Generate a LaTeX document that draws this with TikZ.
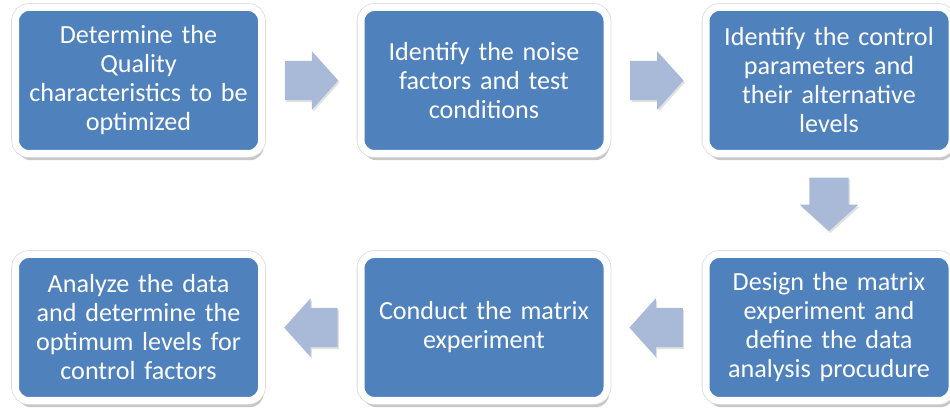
\documentclass[tikz,border=0pt]{standalone}
\usepackage{fontspec}
\setmainfont{Carlito}
\usepackage{tikz}
\usetikzlibrary{calc,shadows,shapes.arrows}
\definecolor{BoxBlue}{RGB}{79,129,189}
\definecolor{ArrowBlue}{RGB}{168,186,216}
\tikzset{
  stepbox/.style={rectangle, rounded corners=10pt, inner sep=0pt,
    minimum width=184.5pt, minimum height=109.5pt, text width=178pt,
    align=center, text=white, fill=BoxBlue,
    font=\fontsize{19.6}{21.75}\selectfont,
    drop shadow={shadow xshift=1.5pt, shadow yshift=-5pt, fill=black, opacity=0.22},
    preaction={draw=black!14, line width=6.4pt},
    draw=white, line width=5.25pt},
  flowarrow/.style={single arrow, draw=none, fill=ArrowBlue,
    inner xsep=0pt, inner ysep=14.6pt, minimum height=40pt,
    single arrow head extend=7.1pt, single arrow tip angle=96, xshift=-6.4pt,
    drop shadow={shadow xshift=1pt, shadow yshift=-1.5pt, fill=black, opacity=0.12}}
}
\begin{document}
\begin{tikzpicture}[x=0.75pt,y=0.75pt,yscale=-1,xscale=1]
\useasboundingbox (0,0) rectangle (950,409);

%Shape: Rounded Rect [top row]
\node (quality) at (138.5,80.5) [stepbox] {Determine the\\ Quality\\ characteristics to be\\ optimized};
\node (noise) at (484,80.5) [stepbox] {Identify the noise\\ factors and test\\ conditions};
\node (control) at (829,80.5) [stepbox] {Identify the control\\ parameters and\\ their alternative\\ levels};
%Shape: Rounded Rect [bottom row]
\node (analyze) at (138.5,327.5) [stepbox] {Analyze the data\\ and determine the\\ optimum levels for\\ control factors};
\node (conduct) at (484,327.5) [stepbox] {Conduct the matrix\\ experiment};
\node (design) at (829,327.5) [stepbox] {Design the matrix\\ experiment and\\ define the data\\ analysis procudure};

%Shape: Right Arrow
\node (qn) at ($(quality.east)!0.5!(noise.west)$) [flowarrow] {};
\node (nc) at ($(noise.east)!0.5!(control.west)$) [flowarrow] {};
%Shape: Down Arrow
\node (cd) at ($(control.south)!0.5!(design.north)$) [rotate=-90, flowarrow] {};
%Shape: Left Arrow
\node (dc) at ($(design.west)!0.5!(conduct.east)$) [rotate=180, flowarrow] {};
\node (ca) at ($(conduct.west)!0.5!(analyze.east)$) [rotate=180, flowarrow] {};

\end{tikzpicture}
\end{document}
